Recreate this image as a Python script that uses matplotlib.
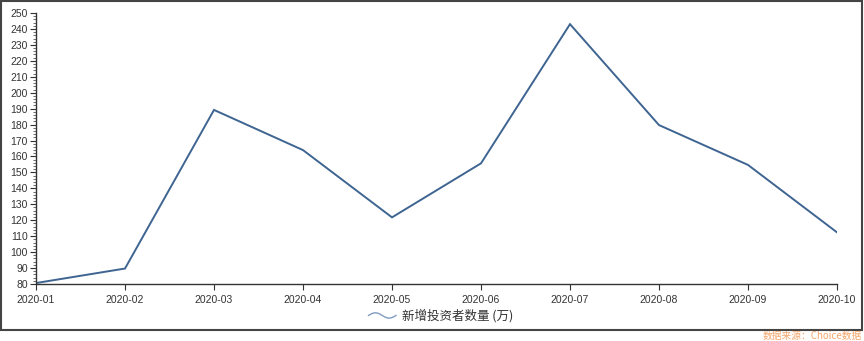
import matplotlib
matplotlib.use("Agg")
import matplotlib.pyplot as plt
import numpy as np
from matplotlib.lines import Line2D
from matplotlib.legend_handler import HandlerBase
from matplotlib.patches import Rectangle
from matplotlib.ticker import MultipleLocator

plt.rcParams['font.family'] = ['Liberation Sans', 'Noto Sans CJK SC', 'DejaVu Sans']

months = ["2020-01", "2020-02", "2020-03", "2020-04", "2020-05",
          "2020-06", "2020-07", "2020-08", "2020-09", "2020-10"]
new_investors = [80.6, 89.7, 189.2, 164.0, 121.8, 155.7, 243.0, 179.7, 154.7, 112.4]
series_name = "新增投资者数量 (万)"
source_text = "数据来源：Choice数据"

W, H = 864, 341
fig = plt.figure(figsize=(W / 100, H / 100), dpi=100)
ax = fig.add_axes([36 / W, 57 / H, 801 / W, 271 / H])

x = np.arange(len(months))
line_color = "#3e6491"
ax.plot(x, new_investors, color=line_color, lw=1.4, solid_joinstyle='miter')

ax.set_xlim(0, len(months) - 1)
ax.set_ylim(80, 250)
ax.yaxis.set_major_locator(MultipleLocator(10))
ax.yaxis.set_minor_locator(MultipleLocator(2))
ax.set_xticks(x)
ax.set_xticklabels(months)

for s in ["top", "right"]:
    ax.spines[s].set_visible(False)
for s in ["left", "bottom"]:
    ax.spines[s].set_color("#333333")
    ax.spines[s].set_linewidth(1.0)

ax.tick_params(axis='both', which='major', labelsize=7.5, colors="#333333",
               length=4, width=0.8, pad=2)
ax.tick_params(axis='y', which='minor', length=2, width=0.6, colors="#555555")
ax.tick_params(axis='x', which='minor', length=0)
ax.tick_params(axis='x', pad=4)


class WaveHandler(HandlerBase):
    def create_artists(self, legend, orig_handle, xdescent, ydescent,
                       width, height, fontsize, trans):
        t = np.linspace(0, 1, 40)
        xs = -xdescent + t * width
        ys = -ydescent + height / 2 + np.sin(t * 2 * np.pi) * height * 0.3
        ln = Line2D(xs, ys, color=orig_handle.get_color(), lw=1.0)
        ln.set_transform(trans)
        return [ln]


handle = Line2D([], [], color="#7f9cc0")
leg = fig.legend([handle], [series_name], handler_map={Line2D: WaveHandler()},
                 loc='center', bbox_to_anchor=(441 / W, 1 - 316 / H),
                 frameon=False, handlelength=2.2, handletextpad=0.5,
                 prop={'family': ['Noto Sans CJK SC', 'DejaVu Sans'], 'size': 9})
for txt in leg.get_texts():
    txt.set_color("#333333")

# outer border
fig.patches.append(Rectangle((1 / W, 1 - 330 / H), 861 / W, 329 / H,
                             transform=fig.transFigure, fill=False,
                             edgecolor="#444444", lw=1.5))

fig.text(862 / W, 1 - 336 / H, source_text, ha='right', va='center',
         fontsize=7, color="#f4a66a",
         family=['Noto Sans CJK SC', 'DejaVu Sans'])

fig.savefig("out.png", dpi=100)
